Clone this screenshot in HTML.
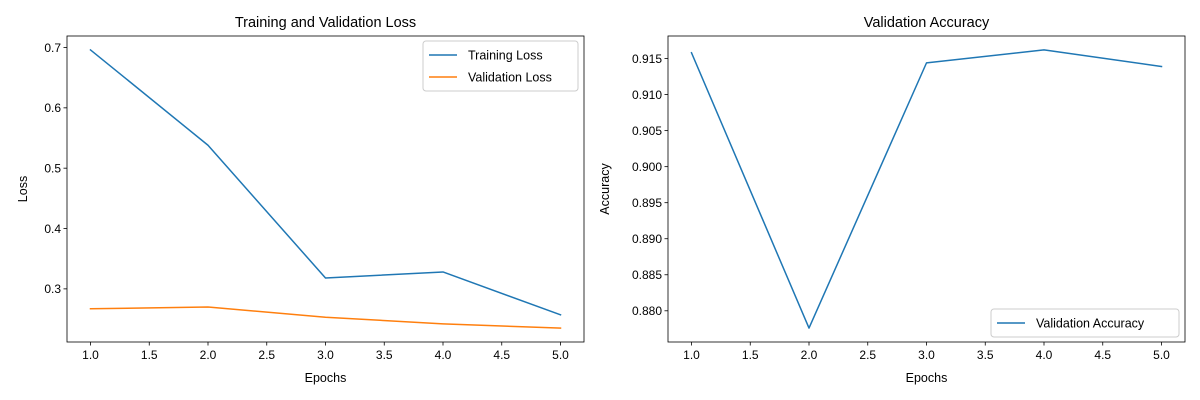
<!DOCTYPE html>
<html><head><meta charset="utf-8">
<style>
html,body{margin:0;padding:0;background:#fff;}
svg{display:block;font-family:"Liberation Sans","DejaVu Sans",sans-serif;}
</style></head>
<body>
<svg id="chart" width="1200" height="400" viewBox="0 0 1200 400" xmlns="http://www.w3.org/2000/svg"></svg>
<script>
const epochs = [1, 2, 3, 4, 5];
const trainLoss = [0.696, 0.538, 0.318, 0.328, 0.257];
const valLoss = [0.267, 0.270, 0.253, 0.242, 0.235];
const valAcc = [0.9158, 0.8776, 0.9144, 0.9162, 0.9139];
const xTicks = [1.0, 1.5, 2.0, 2.5, 3.0, 3.5, 4.0, 4.5, 5.0];
const lossTicks = [0.3, 0.4, 0.5, 0.6, 0.7];
const accTicks = [0.880, 0.885, 0.890, 0.895, 0.900, 0.905, 0.910, 0.915];

const NS = "http://www.w3.org/2000/svg";
const svg = document.getElementById('chart');
function mk(tag, attrs, parent, text){
  const e = document.createElementNS(NS, tag);
  for (const k in attrs) e.setAttribute(k, attrs[k]);
  if (text !== undefined) e.textContent = text;
  (parent || svg).appendChild(e);
  return e;
}
function panel(cfg){
  const g = mk('g', {});
  
  
  const L = cfg.left, R = cfg.right, T = 36, B = 342;
  const allY = [].concat(...cfg.series.map(s => s.values));
  const ymin = Math.min(...allY), ymax = Math.max(...allY), yr = ymax - ymin;
  const y0 = ymin - yr * 0.05, y1 = ymax + yr * 0.05;
  const x0 = 0.8, x1 = 5.2;
  const sx = v => L + (v - x0) / (x1 - x0) * (R - L);
  const sy = v => B - (v - y0) / (y1 - y0) * (B - T);
  // series
  cfg.series.forEach(s => {
    const p = mk('polyline', {points: epochs.map((e, i) => sx(e) + ',' + sy(s.values[i])).join(' '),
      fill: 'none', stroke: s.color, 'stroke-width': 1.5, 'stroke-linejoin': 'round', 'stroke-linecap': 'square'}, g);
    
    
  });
  const frame = mk('rect', {x: L, y: T, width: R - L, height: B - T, fill: 'none', stroke: '#000', 'stroke-width': 0.8}, g);
  
  
  xTicks.forEach(t => {
    const x = sx(t);
    mk('line', {x1: x, x2: x, y1: B, y2: B + 3.5, stroke: '#000', 'stroke-width': 0.8}, g);
    const tx = mk('text', {x: x, y: B + 17, 'font-size': 12, 'text-anchor': 'middle', fill: '#000'}, g, t.toFixed(1));
    
    
  });
  cfg.yTicks.forEach(t => {
    const y = sy(t);
    mk('line', {x1: L - 3.5, x2: L, y1: y, y2: y, stroke: '#000', 'stroke-width': 0.8}, g);
    const tx = mk('text', {x: L - 6, y: y + 4.3, 'font-size': 12, 'text-anchor': 'end', fill: '#000'}, g, t.toFixed(cfg.yDec));
    
    
  });
  const title = mk('text', {x: (L + R) / 2, y: 27, 'font-size': 14.5, 'text-anchor': 'middle', fill: '#000'}, g, cfg.title);
  
  
  const xl = mk('text', {x: (L + R) / 2, y: 382, 'font-size': 12.5, 'text-anchor': 'middle', fill: '#000'}, g, 'Epochs');
  
  
  const yl = mk('text', {x: cfg.ylX, y: (T + B) / 2, 'font-size': 12.5, 'text-anchor': 'middle', fill: '#000',
    transform: 'rotate(-90 ' + cfg.ylX + ' ' + (T + B) / 2 + ')'}, g, cfg.ylabel);
  
  
  // legend
  const lg = mk('g', {}, g);
  
  
  mk('rect', {x: cfg.leg.x, y: cfg.leg.y, width: cfg.leg.w, height: cfg.series.length * 22 + 6, rx: 3,
    fill: '#fff', 'fill-opacity': 0.8, stroke: '#ccc', 'stroke-width': 1}, lg);
  cfg.series.forEach((s, i) => {
    const yy = cfg.leg.y + 14 + i * 22;
    const le = mk('g', {}, lg);
    
    
    mk('line', {x1: cfg.leg.x + 6, x2: cfg.leg.x + 34, y1: yy, y2: yy, stroke: s.color, 'stroke-width': 1.5}, le);
    mk('text', {x: cfg.leg.x + 45, y: yy + 4.5, 'font-size': 12.5, fill: '#000'}, le, s.label);
  });
}
panel({name: 'loss-chart', left: 67, right: 584, title: 'Training and Validation Loss', ylabel: 'Loss', ylX: 27,
  yTicks: lossTicks, yDec: 1, leg: {x: 423, y: 41, w: 155},
  series: [{key: 'training-loss', label: 'Training Loss', values: trainLoss, color: '#1f77b4'},
           {key: 'validation-loss', label: 'Validation Loss', values: valLoss, color: '#ff7f0e'}]});
panel({name: 'accuracy-chart', left: 668, right: 1185, title: 'Validation Accuracy', ylabel: 'Accuracy', ylX: 609,
  yTicks: accTicks, yDec: 3, leg: {x: 991, y: 309, w: 188},
  series: [{key: 'validation-accuracy', label: 'Validation Accuracy', values: valAcc, color: '#1f77b4'}]});
</script>
</body></html>
